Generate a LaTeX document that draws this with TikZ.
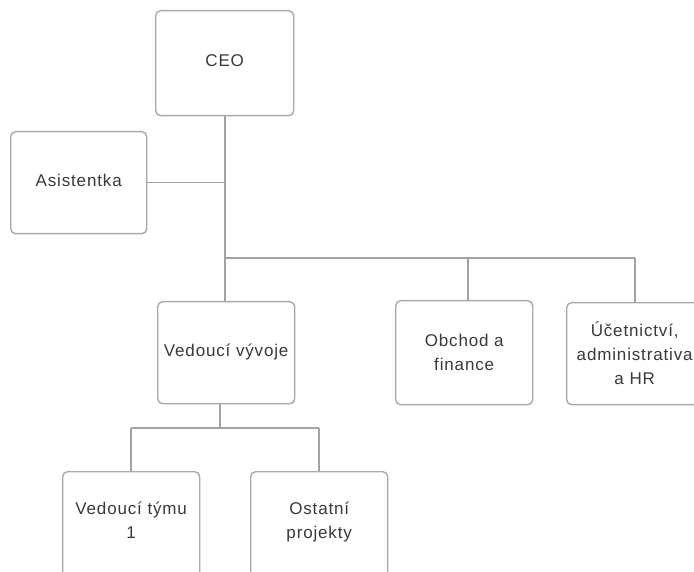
\documentclass[tikz,border=0pt]{standalone}
\usepackage{fontspec}
\setmainfont{Liberation Sans}[LetterSpace=5]
\definecolor{boxgray}{HTML}{A8A9AC}
\definecolor{linegray}{HTML}{A0A2A6}
\definecolor{textgray}{HTML}{38393B}
\newcommand{\lift}[1]{\rule[-#1]{0pt}{#1}}
\begin{document}
\begin{tikzpicture}[x=1pt,y=-1pt,
  box/.style={draw=boxgray, line width=1.4pt, rounded corners=5pt,
    minimum width=137pt, minimum height=103pt, text=textgray,
    align=center, font=\fontsize{17}{24}\selectfont, anchor=north west,
    inner sep=0pt, fill=white},
  conn/.style={draw=linegray, line width=1.4pt}]
\useasboundingbox (0,0) rectangle (694,572);
\clip (0,0) rectangle (694,572);
\fill[white] (0,0) rectangle (694,572);

\node[box, minimum width=138pt, minimum height=105pt] (ceo) at (155,10) {CEO\lift{5pt}};
\node[box, minimum width=136pt, minimum height=102pt] (asi) at (10,131) {Asistentka\lift{4pt}};
\node[box, minimum height=102pt] (vv) at (157,301) {Vedoucí vývoje\lift{5pt}};
\node[box, minimum height=104pt] (obf) at (395,300) {Obchod a\\finance};
\node[box, minimum width=136pt, minimum height=102pt] (uc) at (566,302) {Účetnictví,\\administrativa\\a HR};
\node[box, minimum height=106pt] (vt) at (62,471) {Vedoucí týmu\\1\lift{8pt}};
\node[box, minimum height=106pt] (op) at (250,471) {Ostatní\\projekty\lift{8pt}};

\coordinate (b1) at (225,258);
\coordinate (b2) at (468,258);
\coordinate (b3) at (635,258);
\coordinate (c0) at (220,428);
\coordinate (c1) at (131,428);
\coordinate (c2) at (319,428);

\draw[conn] (ceo.south -| b1) -- (vv.north -| b1);
\draw[conn] (asi.east) -- (asi.east -| b1);
\draw[conn] (b1) -- (b3);
\draw[conn] (b2) -- (b2 |- obf.north);
\draw[conn] (b3) -- (b3 |- uc.north);
\draw[conn] (vv.south -| c0) -- (c0);
\draw[conn] (c1) -- (c2);
\draw[conn] (c1) -- (c1 |- vt.north);
\draw[conn] (c2) -- (c2 |- op.north);
\end{tikzpicture}
\end{document}
